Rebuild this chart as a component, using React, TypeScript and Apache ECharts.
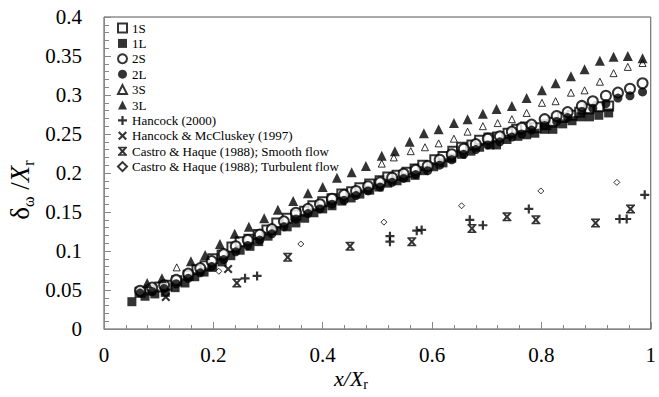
import React, { useEffect, useRef } from "react";
import * as echarts from "echarts";

const FONT = "Liberation Serif";

// [x/Xr, δω/Xr]
const s1S: number[][] = [
  [0.066, 0.047], [0.084, 0.050], [0.102, 0.054], [0.115, 0.056], [0.133, 0.062], [0.154, 0.069],
  [0.170, 0.076], [0.185, 0.081], [0.199, 0.090], [0.216, 0.095], [0.234, 0.105], [0.249, 0.112],
  [0.265, 0.115], [0.282, 0.121], [0.298, 0.127], [0.316, 0.136], [0.335, 0.142], [0.351, 0.146],
  [0.367, 0.151], [0.382, 0.158], [0.400, 0.163], [0.417, 0.167], [0.435, 0.173], [0.453, 0.176],
  [0.468, 0.181], [0.486, 0.186], [0.505, 0.190], [0.519, 0.195], [0.536, 0.197], [0.554, 0.201],
  [0.569, 0.205], [0.583, 0.210], [0.605, 0.217], [0.620, 0.221], [0.638, 0.228], [0.654, 0.233],
  [0.673, 0.236], [0.687, 0.242], [0.704, 0.245], [0.720, 0.246], [0.739, 0.251], [0.755, 0.256],
  [0.771, 0.259], [0.790, 0.258], [0.808, 0.262], [0.821, 0.265], [0.839, 0.271], [0.856, 0.274],
  [0.870, 0.278], [0.887, 0.282], [0.905, 0.285], [0.923, 0.286],
];
const s1L: number[][] = [
  [0.051, 0.035], [0.075, 0.042], [0.093, 0.045], [0.112, 0.047], [0.130, 0.053], [0.148, 0.059],
  [0.166, 0.067], [0.183, 0.073], [0.199, 0.079], [0.216, 0.086], [0.232, 0.094], [0.249, 0.101],
  [0.267, 0.106], [0.283, 0.112], [0.300, 0.119], [0.316, 0.126], [0.335, 0.131], [0.351, 0.136],
  [0.367, 0.142], [0.384, 0.149], [0.400, 0.154], [0.417, 0.158], [0.435, 0.164], [0.452, 0.168],
  [0.468, 0.173], [0.486, 0.178], [0.503, 0.182], [0.519, 0.187], [0.536, 0.190], [0.552, 0.194],
  [0.569, 0.197], [0.585, 0.203], [0.603, 0.208], [0.620, 0.213], [0.636, 0.219], [0.654, 0.224],
  [0.671, 0.228], [0.687, 0.233], [0.706, 0.236], [0.718, 0.236], [0.737, 0.243], [0.757, 0.247],
  [0.773, 0.249], [0.788, 0.251], [0.806, 0.256], [0.821, 0.256], [0.839, 0.263], [0.856, 0.267],
  [0.872, 0.272], [0.888, 0.272], [0.905, 0.274], [0.923, 0.277],
];
const s2S: number[][] = [
  [0.066, 0.049], [0.088, 0.053], [0.110, 0.056], [0.132, 0.063], [0.154, 0.071], [0.176, 0.078],
  [0.197, 0.087], [0.219, 0.096], [0.241, 0.106], [0.263, 0.114], [0.285, 0.121], [0.307, 0.128],
  [0.329, 0.138], [0.351, 0.149], [0.373, 0.154], [0.395, 0.160], [0.417, 0.167], [0.439, 0.172],
  [0.461, 0.177], [0.483, 0.183], [0.505, 0.188], [0.527, 0.194], [0.548, 0.199], [0.570, 0.204],
  [0.592, 0.209], [0.614, 0.217], [0.636, 0.224], [0.658, 0.231], [0.680, 0.237], [0.702, 0.244],
  [0.724, 0.247], [0.746, 0.253], [0.764, 0.258], [0.782, 0.262], [0.806, 0.269], [0.828, 0.273],
  [0.848, 0.278], [0.874, 0.286], [0.894, 0.292], [0.918, 0.299], [0.940, 0.303], [0.962, 0.308],
  [0.985, 0.315],
];
const s2L: number[][] = [
  [0.066, 0.046], [0.088, 0.048], [0.110, 0.052], [0.132, 0.058], [0.154, 0.065], [0.176, 0.072],
  [0.197, 0.080], [0.219, 0.089], [0.241, 0.099], [0.263, 0.107], [0.285, 0.114], [0.307, 0.122],
  [0.329, 0.131], [0.351, 0.141], [0.373, 0.148], [0.395, 0.154], [0.417, 0.160], [0.439, 0.165],
  [0.461, 0.171], [0.483, 0.177], [0.505, 0.182], [0.527, 0.188], [0.548, 0.193], [0.570, 0.198],
  [0.592, 0.203], [0.614, 0.210], [0.636, 0.217], [0.658, 0.224], [0.680, 0.230], [0.702, 0.236],
  [0.724, 0.240], [0.746, 0.246], [0.764, 0.250], [0.782, 0.255], [0.806, 0.261], [0.828, 0.266],
  [0.848, 0.271], [0.874, 0.279], [0.894, 0.283], [0.918, 0.289], [0.940, 0.296], [0.962, 0.299],
  [0.985, 0.304],
];
const s3S: number[][] = [
  [0.133, 0.079], [0.508, 0.212], [0.530, 0.220], [0.561, 0.228], [0.587, 0.233], [0.612, 0.238],
  [0.640, 0.244], [0.665, 0.253], [0.693, 0.260], [0.720, 0.264], [0.746, 0.269], [0.773, 0.277],
  [0.801, 0.290], [0.826, 0.292], [0.854, 0.303], [0.879, 0.306], [0.907, 0.317], [0.932, 0.328],
  [0.958, 0.336], [0.985, 0.341],
];
const s3L: number[][] = [
  [0.079, 0.059], [0.106, 0.065], [0.159, 0.087], [0.185, 0.095], [0.212, 0.109], [0.239, 0.122],
  [0.265, 0.131], [0.293, 0.142], [0.318, 0.153], [0.346, 0.164], [0.373, 0.174], [0.400, 0.182],
  [0.426, 0.194], [0.453, 0.201], [0.479, 0.209], [0.508, 0.222], [0.532, 0.228], [0.559, 0.240],
  [0.585, 0.251], [0.612, 0.256], [0.640, 0.264], [0.665, 0.269], [0.693, 0.276], [0.718, 0.282],
  [0.746, 0.286], [0.773, 0.296], [0.801, 0.306], [0.826, 0.315], [0.854, 0.324], [0.879, 0.333],
  [0.907, 0.344], [0.932, 0.349], [0.958, 0.350], [0.985, 0.347],
];
const hancock2000: number[][] = [
  [0.258, 0.065], [0.280, 0.068], [0.523, 0.119], [0.523, 0.112], [0.572, 0.126], [0.581, 0.127],
  [0.669, 0.140], [0.693, 0.133], [0.777, 0.154], [0.943, 0.141], [0.956, 0.141], [0.989, 0.172],
];
const hancockMcCluskey: number[][] = [
  [0.113, 0.041], [0.227, 0.077],
];
const castroSmooth: number[][] = [
  [0.243, 0.059], [0.336, 0.092], [0.450, 0.106], [0.563, 0.112], [0.673, 0.129], [0.737, 0.144],
  [0.790, 0.140], [0.899, 0.136], [0.963, 0.154],
];
const castroTurbulent: number[][] = [
  [0.210, 0.074], [0.360, 0.109], [0.512, 0.137], [0.654, 0.158], [0.799, 0.177], [0.938, 0.188],
];

const legendNames = [
  "1S", "1L", "2S", "2L", "3S", "3L",
  "Hancock (2000)", "Hancock & McCluskey (1997)",
  "Castro & Haque (1988); Smooth flow", "Castro & Haque (1988); Turbulent flow",
];

const plusPath = "path://M3.4,0H5.6V3.4H9V5.6H5.6V9H3.4V5.6H0V3.4H3.4Z";
const xPath = "path://M0,1.5L1.5,0L4.5,3L7.5,0L9,1.5L6,4.5L9,7.5L7.5,9L4.5,6L1.5,9L0,7.5L3,4.5Z";
const castroPath =
  "path://M0,0H9V1.5H0ZM0,7.5H9V9H0ZM0.5,1.5L2,0.5L4.5,3L7,0.5L8.5,1.5L6,4.5L8.5,7.5L7,8.5L4.5,6L2,8.5L0.5,7.5L3,4.5Z";

export default function App() {
  const ref = useRef<HTMLDivElement>(null);
  useEffect(() => {
    if (!ref.current) return;
    const chart = echarts.init(ref.current, undefined, { renderer: "svg" });
    const open = { color: "#fff", borderColor: "#000", borderWidth: 2 };
    const openThin = { color: "#fff", borderColor: "#000", borderWidth: 1 };
    const solid = { color: "#000" };
    const mk = (name: string, data: number[][], symbol: string, size: number, itemStyle: any) => ({
      name, type: "scatter", data, symbol, symbolSize: size, itemStyle,
      emphasis: { disabled: true },
    });
    const series = [
      mk("1S", s1S, "rect", 9, open),
      mk("1L", s1L, "rect", 9, solid),
      mk("2S", s2S, "circle", 10, open),
      mk("2L", s2L, "circle", 9, solid),
      mk("3S", s3S, "triangle", 7, openThin),
      mk("3L", s3L, "triangle", 10, solid),
      mk("Hancock (2000)", hancock2000, plusPath, 9, solid),
      mk("Hancock & McCluskey (1997)", hancockMcCluskey, xPath, 9, solid),
      mk("Castro & Haque (1988); Smooth flow", castroSmooth, castroPath, 9, solid),
      mk("Castro & Haque (1988); Turbulent flow", castroTurbulent, "diamond", 6, openThin),
    ];
    const axisCommon = {
      type: "value",
      axisLine: { show: true, lineStyle: { color: "#888", width: 1 } },
      splitLine: { show: false },
    };
    chart.setOption({
      animation: false,
      textStyle: { fontFamily: FONT },
      grid: { left: 104, right: 8, top: 17, bottom: 68, show: true, borderColor: "#555", borderWidth: 1 },
      xAxis: {
        ...axisCommon,
        min: 0, max: 1, interval: 0.2,
        axisTick: { inside: true, length: 7, lineStyle: { color: "#888" } },
        minorTick: { show: true, splitNumber: 5, length: 4, lineStyle: { color: "#888" } },
        axisLabel: { color: "#000", fontSize: 21, fontFamily: FONT, margin: 15 },
      },
      yAxis: {
        ...axisCommon,
        min: 0, max: 0.4, interval: 0.05,
        axisTick: { inside: true, length: 7, lineStyle: { color: "#888" } },
        minorTick: { show: true, splitNumber: 5, length: 5, lineStyle: { color: "#888" } },
        axisLabel: { color: "#000", fontSize: 21, fontFamily: FONT, margin: 22 },
      },
      legend: {
        data: legendNames,
        orient: "vertical",
        left: 117,
        top: 21.5,
        itemWidth: 9,
        itemHeight: 9,
        itemGap: 2.4,
        padding: 0,
        selectedMode: false,
        textStyle: { color: "#000", fontSize: 13, fontFamily: FONT },
      },
      graphic: [
        {
          type: "text",
          x: 20,
          y: 190,
          rotation: Math.PI / 2,
          style: {
            text: "{d|δ}{s|ω}{d| /}{x|X}{s|r}",
            align: "center",
            verticalAlign: "middle",
            fill: "#000",
            rich: {
              d: { fontSize: 27, fontFamily: FONT, lineHeight: 32, fill: "#000" },
              x: { fontSize: 27, fontFamily: FONT, fontStyle: "italic", lineHeight: 32, fill: "#000" },
              s: { fontSize: 16, fontFamily: FONT, verticalAlign: "bottom", lineHeight: 16, fill: "#000" },
            },
          },
        },
        {
          type: "text",
          x: 351,
          y: 378,
          style: {
            text: "{x|x/X}{s|r}",
            align: "center",
            verticalAlign: "middle",
            fill: "#000",
            rich: {
              x: { fontSize: 22, fontFamily: FONT, fontStyle: "italic", lineHeight: 26, fill: "#000" },
              s: { fontSize: 14, fontFamily: FONT, verticalAlign: "bottom", lineHeight: 14, fill: "#000" },
            },
          },
        },
      ],
      series,
    });
    return () => chart.dispose();
  }, []);
  return <div ref={ref} style={{ width: 659, height: 397, position: "absolute", left: 0, top: 0 }} />;
}
